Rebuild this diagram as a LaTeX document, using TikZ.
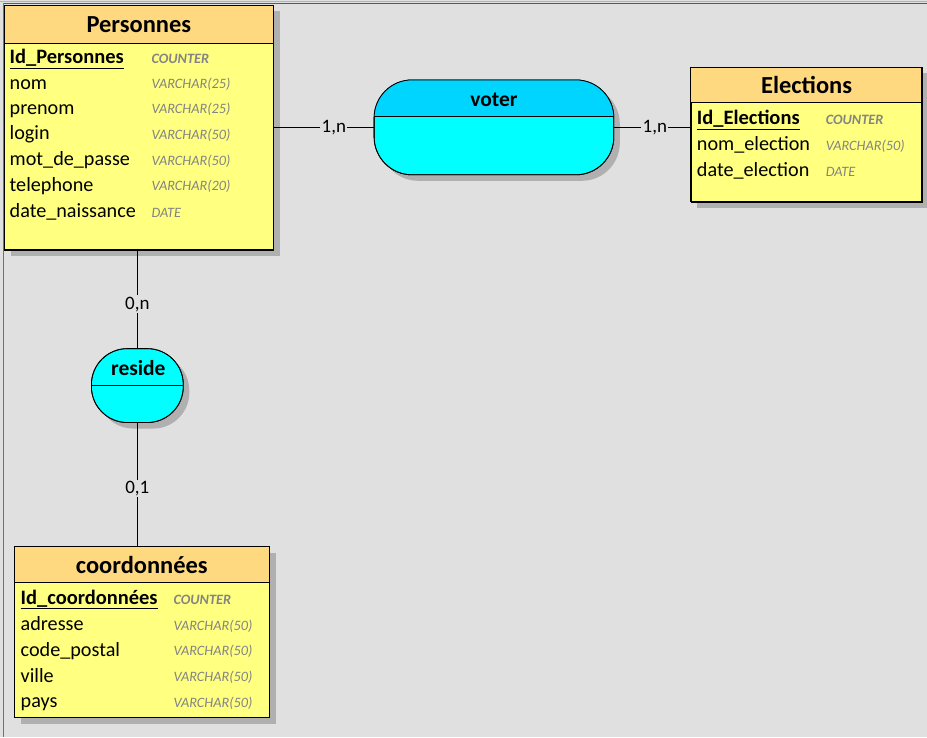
\documentclass[tikz,border=0pt]{standalone}
\usepackage{fontspec}
\setmainfont{Carlito}
\usetikzlibrary{shadows}
\definecolor{bg}{HTML}{E0E0E0}
\definecolor{hdr}{HTML}{FFD980}
\definecolor{bodyc}{HTML}{FFFF80}
\definecolor{cyanhdr}{HTML}{00D5FF}
\definecolor{cyanbody}{HTML}{00FFFF}
\definecolor{typegray}{HTML}{848484}
\definecolor{shadowc}{HTML}{B0B0B0}
\begin{document}
\begin{tikzpicture}[x=1pt,y=-1pt,
  entity/.style={draw=black, fill=bodyc, line width=0.8pt, inner sep=0pt, anchor=north west,
    drop shadow={shadow xshift=6pt, shadow yshift=-6pt, opacity=1, fill=shadowc}},
  assoc/.style={draw=black, fill=cyanbody, line width=0.8pt, inner sep=0pt,
    drop shadow={shadow xshift=6pt, shadow yshift=-6pt, opacity=1, fill=shadowc}},
  title/.style={font=\fontsize{24.5}{26}\selectfont\bfseries, inner sep=0pt},
  atitle/.style={font=\fontsize{21.5}{23}\selectfont\bfseries, inner sep=0pt},
  attr/.style={font=\fontsize{20.2}{22}\selectfont, anchor=base west, inner sep=0pt},
  key/.style={font=\fontsize{20.5}{22}\selectfont\bfseries, anchor=base west, inner sep=0pt},
  typ/.style={font=\fontsize{14.3}{16}\selectfont\itshape, text=typegray, anchor=base west, inner sep=0pt},
  ktyp/.style={font=\fontsize{14.3}{16}\selectfont\itshape\bfseries, text=typegray, anchor=base west, inner sep=0pt},
  card/.style={font=\fontsize{19}{21}\selectfont, fill=bg, inner sep=1.5pt},
  conn/.style={draw=black, line width=0.8pt}
]
% background and window frame
\fill[bg] (0,0) rectangle (927,738);
\draw[gray!60, line width=1pt] (0,1.5) -- (927,1.5);
\draw[black!65, line width=1pt] (3,3.5) -- (927,3.5);
\draw[black!55, line width=1pt] (3,3.5) -- (3,738);

% ---------- Personnes ----------
\node[entity, minimum width=269pt, minimum height=245pt] (personnes) at (4,5) {};
\fill[hdr] (4,5) rectangle (273,43);
\draw[line width=0.8pt] (4,5) rectangle (273,250);
\draw[line width=0.8pt] (4,43) -- (273,43);
\node[title] (ptitle) at (138.5,24.5) {Personnes};
\node[key] (p1) at (9,64) {\underline{Id\_Personnes}};
\node[attr] (p2) at (9,90) {nom};
\node[attr] (p3) at (9,115) {prenom};
\node[attr] (p4) at (9,140) {login};
\node[attr] (p5) at (9,166) {mot\_de\_passe};
\node[attr] (p6) at (9,192) {telephone};
\node[attr] (p7) at (9,218) {date\_naissance};
\node[ktyp] (pt1) at (151,64) {COUNTER};
\node[typ] (pt2) at (151,89) {VARCHAR(25)};
\node[typ] (pt3) at (151,114) {VARCHAR(25)};
\node[typ] (pt4) at (151,140) {VARCHAR(50)};
\node[typ] (pt5) at (151,166) {VARCHAR(50)};
\node[typ] (pt6) at (151,191) {VARCHAR(20)};
\node[typ] (pt7) at (151,218) {DATE};

% ---------- Elections ----------
\node[entity, minimum width=231pt, minimum height=135pt] (elections) at (691,67) {};
\fill[hdr] (691,67) rectangle (922,103);
\draw[line width=0.8pt] (691,67) rectangle (922,202);
\draw[line width=0.8pt] (691,103) -- (922,103);
\node[title] (etitle) at (807,85.5) {Elections};
\node[key] (e1) at (697,125) {\underline{Id\_Elections}};
\node[attr] (e2) at (697,151) {nom\_election};
\node[attr] (e3) at (697,177) {date\_election};
\node[ktyp] (et1) at (826,125) {COUNTER};
\node[typ] (et2) at (826,151) {VARCHAR(50)};
\node[typ] (et3) at (826,177) {DATE};

% ---------- coordonnees ----------
\node[entity, minimum width=255pt, minimum height=171pt] (coord) at (14,547) {};
\fill[hdr] (14,547) rectangle (269,583);
\draw[line width=0.8pt] (14,547) rectangle (269,718);
\draw[line width=0.8pt] (14,583) -- (269,583);
\node[title] (ctitle) at (141.5,565.5) {coordonnées};
\node[key] (c1) at (20,605) {\underline{Id\_coordonnées}};
\node[attr] (c2) at (20,631) {adresse};
\node[attr] (c3) at (20,657) {code\_postal};
\node[attr] (c4) at (20,683) {ville};
\node[attr] (c5) at (20,708) {pays};
\node[ktyp] (ct1) at (173,605) {COUNTER};
\node[typ] (ct2) at (173,631) {VARCHAR(50)};
\node[typ] (ct3) at (173,656) {VARCHAR(50)};
\node[typ] (ct4) at (173,682) {VARCHAR(50)};
\node[typ] (ct5) at (173,708) {VARCHAR(50)};

% ---------- voter ----------
\node[assoc, rounded corners=38pt, minimum width=240pt, minimum height=95pt] (voter) at (494,127.5) {};
\begin{scope}
  \clip[rounded corners=38pt] (374,80) rectangle (614,175);
  \fill[cyanhdr] (374,80) rectangle (614,117);
\end{scope}
\draw[line width=0.8pt] (374,117) -- (614,117);
\draw[line width=0.8pt, rounded corners=38pt] (374,80) rectangle (614,175);
\node[atitle] (vtitle) at (494,100) {voter};

% ---------- reside ----------
\node[assoc, rounded corners=36pt, minimum width=92pt, minimum height=74pt] (reside) at (137,386) {};
\draw[line width=0.8pt] (91,386) -- (183,386);
\draw[line width=0.8pt, rounded corners=36pt] (91,349) rectangle (183,423);
\node[atitle] (rtitle) at (138,368.5) {reside};

% ---------- connectors ----------
\draw[conn] (personnes.east |- voter.west) -- node[card, pos=0.6] {1,n} (voter.west);
\draw[conn] (voter.east) -- node[card, pos=0.53] {1,n} (voter.east -| elections.west);
\draw[conn] (reside.north) -- node[card, pos=0.45] {0,n} (reside.north |- personnes.south);
\draw[conn] (reside.south) -- node[card, pos=0.53] {0,1} (reside.south |- coord.north);
\end{tikzpicture}
\end{document}
